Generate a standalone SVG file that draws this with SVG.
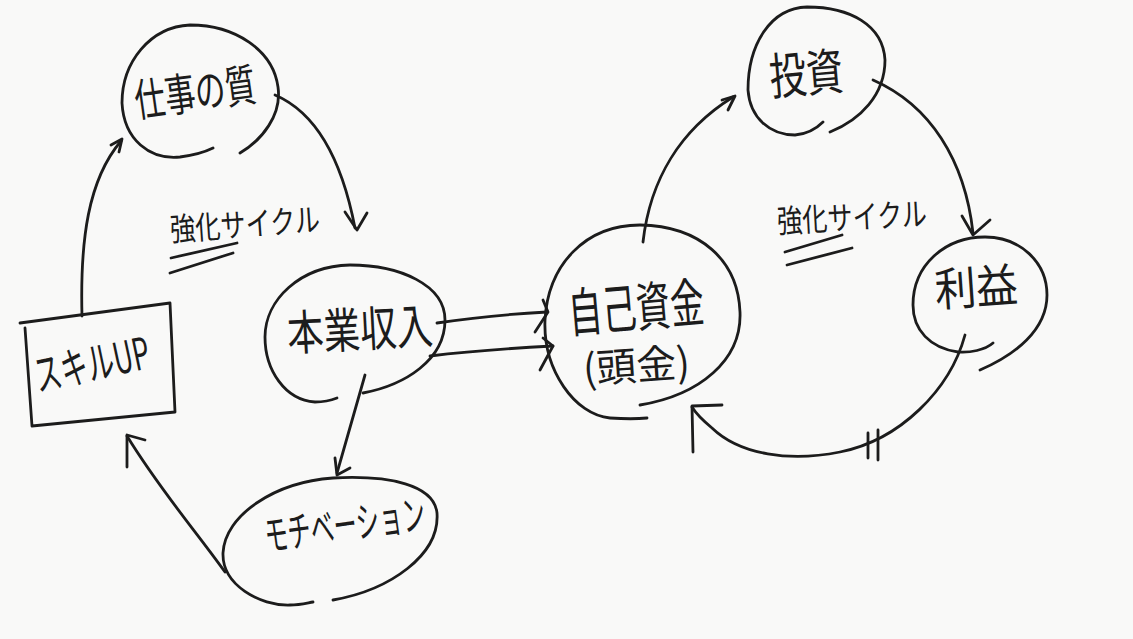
<svg xmlns="http://www.w3.org/2000/svg" width="1133" height="639" viewBox="0 0 1133 639">
<style>
.ln{fill:none;stroke:#1c1c1c;stroke-width:2.8;stroke-linecap:round;stroke-linejoin:round}
.t{font-family:"Noto Sans CJK JP","Noto Sans",sans-serif;fill:#1c1c1c;text-anchor:middle}
</style>
<rect width="1133" height="639" fill="#f9f9f8"/>
<g id="connectors">
  <path class="ln" d="M275,95 C310,110 340,150 355,228"/>
  <path class="ln" d="M345,212 L357,230 L367,213"/>
  <path class="ln" d="M82,316 C80,240 88,180 121,141"/>
  <path class="ln" d="M111,145 L122,139 L119,152"/>
  <path class="ln" d="M365,375 L337,473"/>
  <path class="ln" d="M335,458 L337,475 L350,468"/>
  <path class="ln" d="M225,572 C195,530 160,490 127,436"/>
  <path class="ln" d="M127,467 L127,435 L145,440"/>
  <path class="ln" d="M437,323 C470,318 510,314 547,312"/>
  <path class="ln" d="M543,300 L548,312 L535,332"/>
  <path class="ln" d="M430,356 C470,351 515,348 553,346"/>
  <path class="ln" d="M543,338 L553,346 L540,370"/>
  <path class="ln" d="M643,242 C650,180 680,130 733,97"/>
  <path class="ln" d="M722,100 L735,96 L728,110"/>
  <path class="ln" d="M873,80 C930,105 965,160 973,233"/>
  <path class="ln" d="M962,216 L973,235 L990,220"/>
  <path class="ln" d="M965,335 C950,390 900,440 840,452 C790,462 740,455 712,428 C700,418 695,412 692,407"/>
  <path class="ln" d="M693,452 L692,406 L722,405"/>
  <path class="ln" d="M868,433 L868,458 M878,430 L878,460"/>
</g>
<g id="label-left">
  <text class="t" x="245" y="236" font-size="32" textLength="150" lengthAdjust="spacingAndGlyphs" transform="rotate(-4 245 225)">強化サイクル</text>
  <path class="ln" d="M171,258 L237,243 M170,273 L233,253"/>
</g>
<g id="label-right">
  <text class="t" x="852" y="229" font-size="32" textLength="150" lengthAdjust="spacingAndGlyphs" transform="rotate(-3 852 218)">強化サイクル</text>
  <path class="ln" d="M785,252 L842,235 M787,265 L852,248"/>
</g>
<g id="node-quality">
  <path class="ln" d="M240,153 C262,140 282,115 278,87 C273,50 235,25 190,25 C150,27 122,62 122,103 C124,140 150,160 180,157 C195,155 205,152 213,148"/>
  <text class="t" x="195" y="109" font-size="45" textLength="122" lengthAdjust="spacingAndGlyphs" transform="rotate(-8 195 92)">仕事の質</text>
</g>
<g id="node-income">
  <path class="ln" d="M363,393 C405,385 445,360 445,320 C445,285 400,265 350,265 C300,266 265,300 265,337 C265,370 285,400 315,402 C325,402 332,400 337,398"/>
  <text class="t" x="360" y="347" font-size="48" textLength="146" lengthAdjust="spacingAndGlyphs" transform="rotate(-3 360 330)">本業収入</text>
</g>
<g id="node-skill">
  <path class="ln" d="M20,323 L170,303 L175,412 L32,426 L25,328"/>
  <text class="t" x="92" y="380" font-size="44" textLength="117" lengthAdjust="spacingAndGlyphs" transform="rotate(-12 92 365)">スキルUP</text>
</g>
<g id="node-motivation">
  <path class="ln" d="M333,600 C390,590 440,555 437,513 C434,485 390,475 333,478 C275,482 225,515 223,553 C222,585 260,606 290,605 C300,605 307,603 313,602"/>
  <text class="t" x="345" y="540" font-size="42" textLength="162" lengthAdjust="spacingAndGlyphs" transform="rotate(-8 345 525)">モチベーション</text>
</g>
<g id="node-funds">
  <path class="ln" d="M640,405 C700,395 742,360 740,312 C738,260 700,226 640,225 C585,225 548,265 545,320 C543,370 575,415 610,418 C625,419 637,419 647,418"/>
  <text class="t" x="635" y="327" font-size="53" textLength="136" lengthAdjust="spacingAndGlyphs" transform="rotate(-5 635 295)">自己資金</text>
  <text class="t" x="636" y="380" font-size="40" textLength="107" lengthAdjust="spacingAndGlyphs" transform="rotate(-4 636 362)">(頭金)</text>
</g>
<g id="node-invest">
  <path class="ln" d="M830,132 C860,120 885,95 885,60 C883,25 850,7 807,7 C770,8 748,45 748,90 C750,118 770,135 795,135 C808,134 817,128 823,122"/>
  <text class="t" x="806" y="92" font-size="50" textLength="74" lengthAdjust="spacingAndGlyphs" transform="rotate(-5 806 72)">投資</text>
</g>
<g id="node-profit">
  <path class="ln" d="M993,343 C985,350 970,353 958,352 C930,348 913,330 913,305 C913,265 945,237 985,237 C1020,237 1047,262 1047,295 C1047,330 1015,355 980,370"/>
  <text class="t" x="976" y="304" font-size="46" textLength="83" lengthAdjust="spacingAndGlyphs" transform="rotate(-4 976 285)">利益</text>
</g>
</svg>
